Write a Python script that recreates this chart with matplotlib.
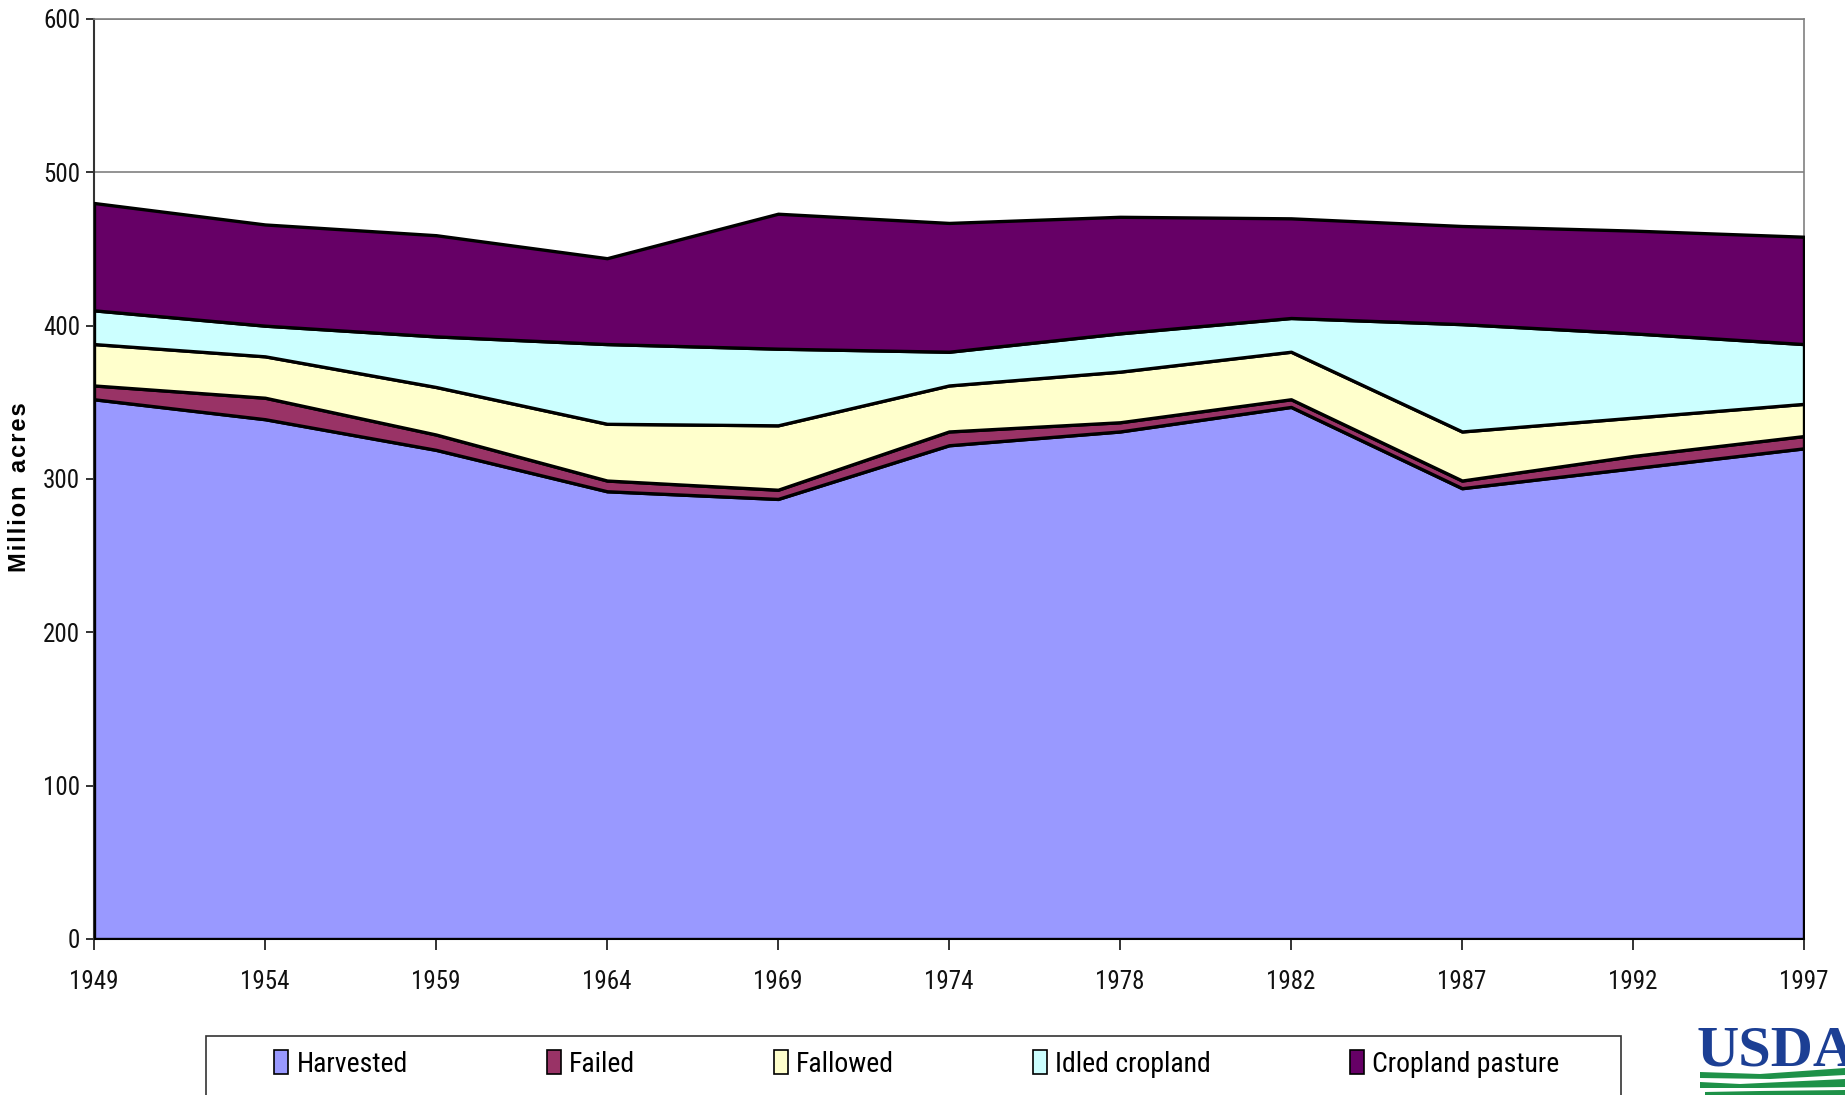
import matplotlib

matplotlib.use("Agg")
import matplotlib.pyplot as plt
from matplotlib import font_manager
from matplotlib.patches import Patch, Rectangle, Polygon

W, H = 1845, 1095

years = ["1949", "1954", "1959", "1964", "1969", "1974", "1978", "1982", "1987", "1992", "1997"]
harvested = [352, 339, 319, 292, 287, 322, 331, 347, 294, 307, 320]
failed = [9, 14, 10, 7, 6, 9, 6, 5, 5, 8, 8]
fallowed = [27, 27, 31, 37, 42, 30, 33, 31, 32, 25, 21]
idled = [22, 20, 33, 52, 50, 22, 25, 22, 70, 55, 39]
pasture = [70, 66, 66, 56, 88, 84, 76, 65, 64, 67, 70]

labels = ["Harvested", "Failed", "Fallowed", "Idled cropland", "Cropland pasture"]
colors = ["#9999FF", "#993366", "#FFFFCC", "#CCFFFF", "#660066"]

# narrow face like Arial Narrow, whichever is installed
have = {f.name for f in font_manager.fontManager.ttflist}
narrow = [n for n in ["Liberation Sans Narrow", "Arial Narrow", "Nimbus Sans Narrow",
                      "Roboto Condensed", "Archivo Narrow", "PT Sans Narrow"] if n in have]
plt.rcParams["font.family"] = narrow[:1] + ["Liberation Sans", "DejaVu Sans"]


def fig_xy(x, y):
    # reference pixel coords (y-down) -> figure fraction
    return x / W, 1 - y / H


fig = plt.figure(figsize=(W / 100, H / 100), dpi=100)
ax = fig.add_axes([94 / W, 1 - 939 / H, (1804 - 94) / W, (939 - 19) / H])

x = list(range(len(years)))
ax.stackplot(x, harvested, failed, fallowed, idled, pasture, colors=colors,
             edgecolor="black", linewidth=2.4, zorder=3)

ax.set_xlim(0, len(years) - 1)
ax.set_ylim(0, 600)
ax.set_xticks(x)
ax.set_xticklabels(years)
ax.set_yticks(range(0, 601, 100))
ax.yaxis.grid(True, color="#808080", linewidth=1.2, zorder=0)
ax.set_axisbelow(True)

ax.tick_params(axis="both", labelsize=18, colors="#111111", width=1.2)
ax.tick_params(axis="x", length=8, pad=14)
ax.tick_params(axis="y", length=6, pad=4)
for side in ("left", "bottom"):
    ax.spines[side].set_color("#333333")
    ax.spines[side].set_linewidth(1.5)
for side in ("top", "right"):
    ax.spines[side].set_color("#808080")
    ax.spines[side].set_linewidth(1.2)

ylab = "\u200a".join("Million") + "  " + "\u200a".join("acres")
fig.text(*fig_xy(20, 487), ylab, rotation=90, ha="center", va="center",
         fontsize=17, fontweight="bold", family=["Liberation Sans", "DejaVu Sans"])

handles = [Patch(facecolor=c, edgecolor="black", linewidth=1.2) for c in colors]
fig.legend(handles, labels, loc="center", bbox_to_anchor=fig_xy(917, 1064),
           ncol=5, frameon=False, fontsize=20, columnspacing=5.0,
           handlelength=0.5, handleheight=0.9, handletextpad=0.3)
fx, fy = fig_xy(206, 1120)
fig.add_artist(Rectangle((fx, fy), (1621 - 206) / W, (1120 - 1036) / H,
                         transform=fig.transFigure, fill=False,
                         edgecolor="#333333", linewidth=1.2))

# USDA logo (cut at the right edge, as in the source)
fig.text(*fig_xy(1697, 1066), "USDA", ha="left", va="baseline", fontsize=42,
         fontweight="bold", color="#1C3F94", family=["Liberation Serif", "DejaVu Serif"])
green = "#1E9148"
stripes = [
    [(1700, 1072), (1760, 1074), (1845, 1068), (1845, 1075), (1770, 1079), (1700, 1078)],
    [(1700, 1082), (1740, 1084), (1845, 1079), (1845, 1087), (1760, 1088), (1700, 1088)],
    [(1705, 1092), (1760, 1091), (1845, 1090), (1845, 1095), (1705, 1095)],
]
for pts in stripes:
    fig.add_artist(Polygon([fig_xy(px, py) for px, py in pts], closed=True,
                           transform=fig.transFigure, facecolor=green, edgecolor="none"))

fig.savefig("out.png", dpi=100)
